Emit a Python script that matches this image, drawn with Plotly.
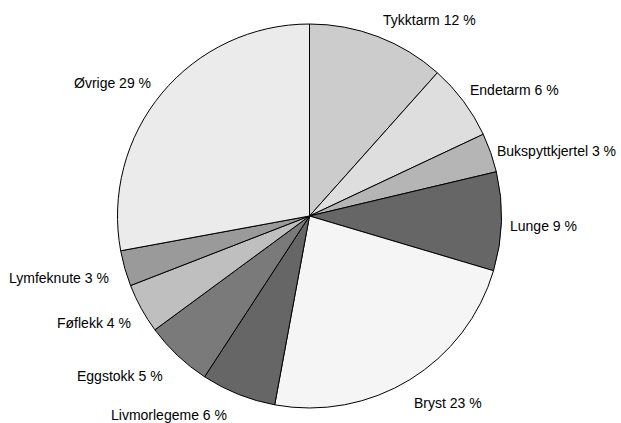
import plotly.graph_objects as go

labels = ["Tykktarm", "Endetarm", "Bukspyttkjertel", "Lunge", "Bryst",
          "Livmorlegeme", "Eggstokk", "Føflekk", "Lymfeknute", "Øvrige"]
# percentages printed in the labels
label_pct = [12, 6, 3, 9, 23, 6, 5, 4, 3, 29]
values = [11.6, 6.4, 3.3, 8.3, 23.3, 6.3, 5.7, 4.2, 3.0, 27.9]
colors = ["#cccccc", "#dedede", "#b5b5b5", "#666666", "#f5f5f5",
          "#666666", "#7a7a7a", "#bfbfbf", "#9a9a9a", "#ebebeb"]

# label centre positions (pixels from top-left), layout only
label_pos = [(429, 20), (514, 90), (556, 151), (543, 226), (448, 403),
             (169, 415), (120, 376), (94, 323), (59, 278), (112, 83)]

W, H = 621, 423
cx, cy, r = 309.5, 216, 192

fig = go.Figure(go.Pie(
    labels=labels, values=values, sort=False, direction="clockwise", rotation=0,
    marker=dict(colors=colors, line=dict(color="black", width=1)),
    textinfo="none",
    showlegend=False, hoverinfo="label",
    domain=dict(x=[(cx - r) / W, (cx + r) / W], y=[(H - cy - r) / H, (H - cy + r) / H]),
))
for l, v, (px, py) in zip(labels, label_pct, label_pos):
    fig.add_annotation(x=px / W, y=1 - py / H, xref="paper", yref="paper",
                       text=f"{l} {v} %", showarrow=False,
                       xanchor="center", yanchor="middle",
                       font=dict(family="Liberation Sans, Arial", size=14, color="black"))
fig.update_layout(width=W, height=H, margin=dict(l=0, r=0, t=0, b=0),
                  paper_bgcolor="white", plot_bgcolor="white")
fig.write_html("out.html")
